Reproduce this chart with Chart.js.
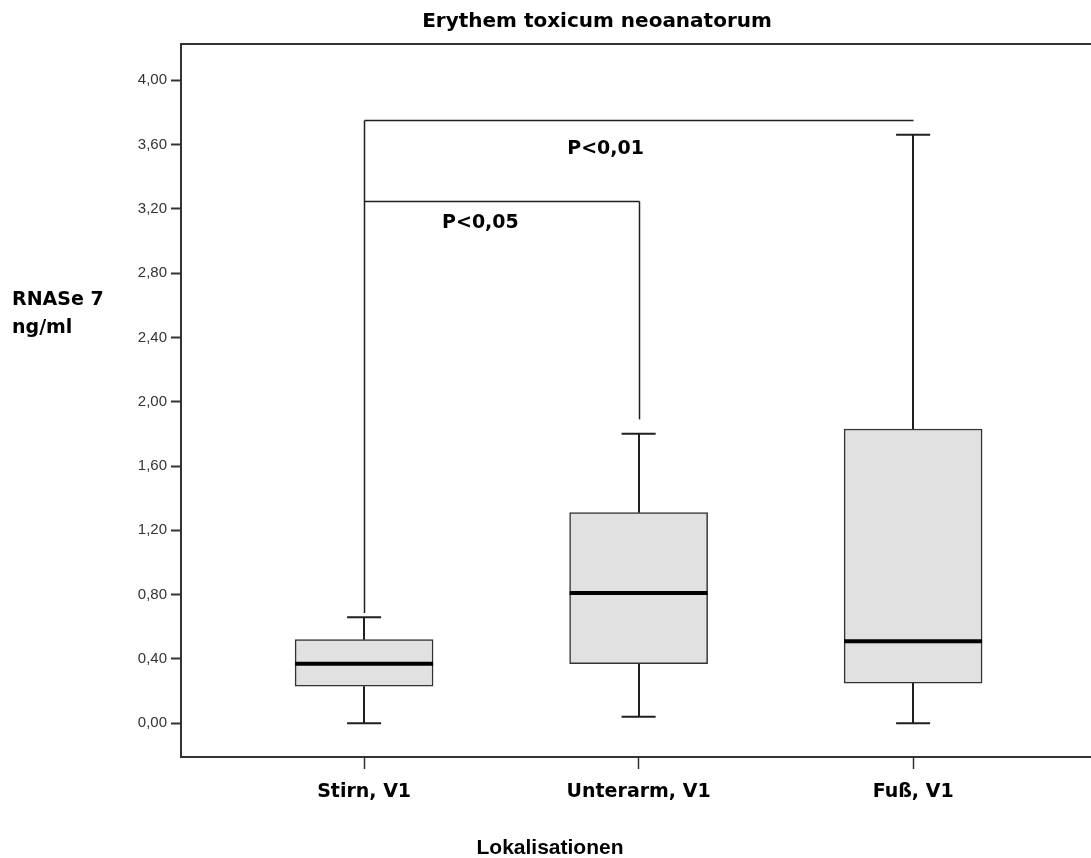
<!DOCTYPE html>
<html>
<head>
<meta charset="utf-8">
<title>Erythem toxicum neoanatorum</title>
<script src="https://cdn.jsdelivr.net/npm/chart.js@4.4.1/dist/chart.umd.min.js"></script>
<style>
  html, body { margin: 0; padding: 0; background: #fff; overflow: hidden; }
  #wrap { width: 1091px; height: 858px; position: relative; }
</style>
</head>
<body>
<div id="wrap"><canvas id="chart"></canvas></div>
<script>
const categories = ["Stirn, V1", "Unterarm, V1", "Fuß, V1"];
const whiskerLow = [0.00, 0.04, 0.00];
const quartile1 = [0.23, 0.37, 0.25];
const median = [0.37, 0.81, 0.51];
const quartile3 = [0.52, 1.31, 1.83];
const whiskerHigh = [0.66, 1.80, 3.66];
const yTicks = [0, 0.4, 0.8, 1.2, 1.6, 2.0, 2.4, 2.8, 3.2, 3.6, 4.0];

// significance brackets: group indices, bar height, where the legs stop
const bracketFrom = [0, 0];
const bracketTo = [2, 1];
const bracketLevel = [3.75, 3.25];
const bracketLegFrom = [0.685, null];
const bracketLegTo = [null, 1.89];
const bracketText = ["P<0,01", "P<0,05"];

const BOLD = '"DejaVu Sans", sans-serif';
const PLAIN = '"Liberation Sans", Arial, sans-serif';
const INK = "#1f1f1f";

function fmt(v) {
  return v.toFixed(2).replace(".", ",");
}

function line(ctx, x1, y1, x2, y2) {
  ctx.beginPath();
  ctx.moveTo(x1, y1);
  ctx.lineTo(x2, y2);
  ctx.stroke();
}

const boxExtras = {
  id: "boxExtras",
  beforeDatasetsDraw(chart) {
    const { ctx, scales: { x, y } } = chart;
    ctx.save();
    ctx.strokeStyle = INK;
    ctx.lineWidth = 2;
    categories.forEach(function (c, i) {
      const cx = Math.round(x.getPixelForValue(i));
      const capL = x.getPixelForValue(i - 0.062);
      const capR = x.getPixelForValue(i + 0.062);
      const lo = y.getPixelForValue(whiskerLow[i]);
      const hi = y.getPixelForValue(whiskerHigh[i]);
      line(ctx, cx, lo, cx, y.getPixelForValue(quartile1[i]));
      line(ctx, cx, hi, cx, y.getPixelForValue(quartile3[i]));
      line(ctx, capL, lo, capR, lo);
      line(ctx, capL, hi, capR, hi);
    });
    ctx.restore();
  },
  afterDatasetsDraw(chart, args, opts) {
    const { ctx, chartArea, scales: { x, y } } = chart;
    const bars = chart.getDatasetMeta(0).data;
    ctx.save();

    // medians
    ctx.strokeStyle = "#000";
    ctx.lineWidth = 4;
    bars.forEach(function (bar, i) {
      const my = y.getPixelForValue(median[i]);
      line(ctx, bar.x - bar.width / 2, my, bar.x + bar.width / 2, my);
    });

    // frame line along the top
    ctx.strokeStyle = "#333";
    ctx.lineWidth = 2;
    line(ctx, chartArea.left - 1, chartArea.top, chartArea.right, chartArea.top);

    // brackets
    ctx.strokeStyle = INK;
    ctx.lineWidth = 1.5;
    bracketLevel.forEach(function (lvl, k) {
      const x1 = Math.round(x.getPixelForValue(bracketFrom[k])) + 0.5;
      const x2 = Math.round(x.getPixelForValue(bracketTo[k])) + 0.5;
      const by = Math.round(y.getPixelForValue(lvl)) + 0.5;
      line(ctx, x1, by, x2, by);
      if (bracketLegFrom[k] !== null) line(ctx, x1, by, x1, y.getPixelForValue(bracketLegFrom[k]));
      if (bracketLegTo[k] !== null) line(ctx, x2, by, x2, y.getPixelForValue(bracketLegTo[k]));
    });

    ctx.fillStyle = "#000";
    ctx.font = "bold 19px " + BOLD;
    ctx.textAlign = "left";
    ctx.textBaseline = "alphabetic";
    bracketText.forEach(function (t, k) {
      const p = opts.labelAt[k];
      ctx.fillText(t, x.getPixelForValue(p[0]), y.getPixelForValue(p[1]));
    });
    ctx.restore();
  },
  afterDraw(chart) {
    const ctx = chart.ctx;
    ctx.save();
    ctx.fillStyle = "#000";
    ctx.textBaseline = "alphabetic";

    ctx.font = "bold 20px " + BOLD;
    ctx.textAlign = "center";
    ctx.fillText("Erythem toxicum neoanatorum", 597, 27);

    ctx.font = "bold 21px " + PLAIN;
    ctx.fillText("Lokalisationen", 550, 854);

    ctx.font = "bold 19px " + BOLD;
    ctx.textAlign = "left";
    ctx.fillText("RNASe 7", 12, 305);
    ctx.fillText("ng/ml", 12, 333);
    ctx.restore();
  }
};

new Chart(document.getElementById("chart"), {
  type: "bar",
  data: {
    datasets: [
      {
        data: categories.map(function (c, i) {
          return { x: i, y: [quartile1[i], quartile3[i]] };
        }),
        backgroundColor: "#e1e1e1",
        borderColor: "#333",
        borderWidth: 1.5,
        borderSkipped: false,
        barThickness: 138
      }
    ]
  },
  plugins: [boxExtras],
  options: {
    responsive: true,
    maintainAspectRatio: false,
    animation: false,
    layout: { padding: { top: 44, right: 0, left: 0, bottom: 0 } },
    plugins: {
      legend: { display: false },
      tooltip: { enabled: false },
      boxExtras: { labelAt: [[0.74, 3.54], [0.284, 3.08]] }
    },
    scales: {
      x: {
        type: "linear",
        offset: false,
        min: -0.667,
        max: 2.648,
        afterBuildTicks: function (axis) {
          axis.ticks = categories.map(function (c, i) { return { value: i }; });
        },
        afterFit: function (axis) { axis.height = 101; },
        ticks: {
          callback: function (v) { return categories[v]; },
          color: "#000",
          font: { family: BOLD, size: 19, weight: "bold" },
          padding: 12,
          maxRotation: 0,
          autoSkip: false
        },
        grid: {
          offset: false,
          drawOnChartArea: false,
          drawTicks: true,
          tickLength: 12,
          color: "#333",
          tickWidth: 1.5
        },
        border: { display: true, color: "#333", width: 2 }
      },
      y: {
        min: -0.21,
        max: 4.225,
        afterBuildTicks: function (axis) {
          axis.ticks = yTicks.map(function (v) { return { value: v }; });
        },
        afterFit: function (axis) { axis.width = 181; },
        ticks: {
          callback: function (v) { return fmt(v); },
          color: "#333",
          font: { family: PLAIN, size: 15 },
          padding: 4
        },
        grid: {
          drawOnChartArea: false,
          drawTicks: true,
          tickLength: 10,
          color: "#333",
          tickWidth: 2
        },
        border: { display: true, color: "#333", width: 2 }
      }
    }
  }
});
</script>
</body>
</html>
